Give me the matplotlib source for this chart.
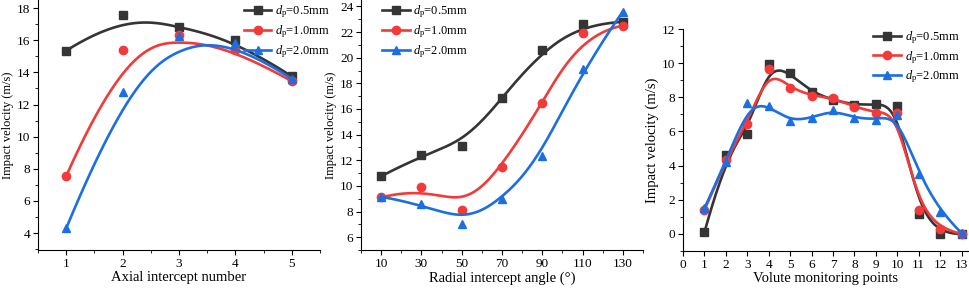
import numpy as np
import matplotlib
matplotlib.use("Agg")
import matplotlib.pyplot as plt
from matplotlib.ticker import MultipleLocator
from matplotlib.legend_handler import HandlerTuple

plt.rcParams['font.family'] = ['Liberation Serif', 'DejaVu Serif']
plt.rcParams['mathtext.fontset'] = 'custom'
plt.rcParams['mathtext.rm'] = 'Liberation Serif'
plt.rcParams['mathtext.it'] = 'Liberation Serif:italic'

# data
labels = [r'$d_\mathrm{p}$=0.5mm', r'$d_\mathrm{p}$=1.0mm', r'$d_\mathrm{p}$=2.0mm']
colors = ['#353535', '#f23a3a', '#1c6fe0']
markers = ['s', 'o', '^']

axial_x = [1, 2, 3, 4, 5]
axial_05 = [15.35, 17.55, 16.85, 16.0, 13.75]
axial_10 = [7.55, 15.4, 16.3, 15.4, 13.45]
axial_20 = [4.3, 12.75, 16.25, 15.85, 13.6]

radial_x = [10, 30, 50, 70, 90, 110, 130]
radial_05 = [10.75, 12.4, 13.15, 16.85, 20.6, 22.6, 22.8]
radial_10 = [9.1, 9.9, 8.1, 11.5, 16.45, 21.9, 22.5]
radial_20 = [9.15, 8.6, 7.05, 8.95, 12.3, 19.1, 23.6]

volute_x = [1, 2, 3, 4, 5, 6, 7, 8, 9, 10, 11, 12, 13]
volute_05 = [0.1, 4.6, 5.85, 9.95, 9.4, 8.3, 7.85, 7.55, 7.6, 7.5, 1.15, 0.0, 0.0]
volute_10 = [1.4, 4.3, 6.45, 9.65, 8.55, 8.1, 7.95, 7.45, 7.1, 7.1, 1.4, 0.3, 0.0]
volute_20 = [1.5, 4.2, 7.65, 7.5, 6.6, 6.8, 7.25, 6.8, 6.7, 6.95, 3.5, 1.3, 0.05]


def basis(i, k, t, knots):
    if k == 0:
        b = ((knots[i] <= t) & (t < knots[i + 1])).astype(float)
        if knots[i + 1] == knots[-1] and knots[i] < knots[i + 1]:
            b[t == knots[-1]] = 1.0
        return b
    out = np.zeros_like(t)
    d1 = knots[i + k] - knots[i]
    if d1 > 0:
        out += (t - knots[i]) / d1 * basis(i, k - 1, t, knots)
    d2 = knots[i + k + 1] - knots[i + 1]
    if d2 > 0:
        out += (knots[i + k + 1] - t) / d2 * basis(i + 1, k - 1, t, knots)
    return out


def bspline(px, py, k=3, n=300):
    # clamped cubic B-spline with the data as control points
    px = np.asarray(px, float)
    py = np.asarray(py, float)
    m = len(px)
    knots = np.concatenate([np.zeros(k), np.arange(m - k + 1), np.full(k, m - k)]).astype(float)
    t = np.linspace(0, m - k, n)
    bx = np.zeros(n)
    by = np.zeros(n)
    for i in range(m):
        b = basis(i, k, t, knots)
        bx += b * px[i]
        by += b * py[i]
    return bx, by


def panel(ax, x, series, xlabel, ylabel_size=9.0):
    handles = []
    for ys, c, mk in zip(series, colors, markers):
        cx, cy = bspline(x, ys)
        ln, = ax.plot(cx, cy, color=c, lw=1.9)
        pt, = ax.plot(x, ys, mk, color=c, ms=6, ls='none')
        handles.append((ln, pt))
    ax.spines['top'].set_visible(False)
    ax.spines['right'].set_visible(False)
    ax.set_xlabel(xlabel, fontsize=10.5, labelpad=1)
    ax.set_ylabel('Impact velocity (m/s)', fontsize=ylabel_size, labelpad=2)
    ax.tick_params(which='both', direction='out', labelsize=9.5, pad=2)
    ax.tick_params(which='major', length=3.5)
    ax.tick_params(which='minor', length=2)
    return handles


def add_legend(ax, handles, loc, anchor):
    ax.legend(handles, labels, handler_map={tuple: HandlerTuple(ndivide=1, pad=0)},
              loc=loc, bbox_to_anchor=anchor, frameon=False,
              fontsize=9, handlelength=2.2, handletextpad=0.3, labelspacing=0.25,
              borderpad=0, borderaxespad=0)


fig = plt.figure(figsize=(9.69, 2.89), dpi=100)
W, H = 969, 289

def add_axes(l, r, b, t):
    return fig.add_axes([l / W, 1 - b / H, (r - l) / W, (b - t) / H])

ax1 = add_axes(38, 320, 250, 0)
h1 = panel(ax1, axial_x, [axial_05, axial_10, axial_20], 'Axial intercept number')
ax1.set_xlim(0.5, 5.5)
ax1.set_ylim(2.95, 18.5)
ax1.xaxis.set_major_locator(MultipleLocator(1))
ax1.xaxis.set_minor_locator(MultipleLocator(0.5))
ax1.yaxis.set_major_locator(MultipleLocator(2))
ax1.yaxis.set_minor_locator(MultipleLocator(1))
add_legend(ax1, h1, 'upper right', (1.035, 0.985))

ax2 = add_axes(361, 643, 250, 0)
h2 = panel(ax2, radial_x, [radial_05, radial_10, radial_20], 'Radial intercept angle (°)')
ax2.set_xlim(0, 140)
ax2.set_ylim(5, 24.5)
ax2.set_xticks(radial_x)
ax2.xaxis.set_minor_locator(MultipleLocator(10))
ax2.yaxis.set_major_locator(MultipleLocator(2))
ax2.yaxis.set_minor_locator(MultipleLocator(1))
add_legend(ax2, h2, 'upper left', (0.075, 0.985))

ax3 = add_axes(683, 968, 251, 29)
h3 = panel(ax3, volute_x, [volute_05, volute_10, volute_20], 'Volute monitoring points', 10.5)
ax3.set_xlim(0, 13.3)
ax3.set_ylim(-1, 12)
ax3.xaxis.set_major_locator(MultipleLocator(1))
ax3.yaxis.set_major_locator(MultipleLocator(2))
ax3.yaxis.set_minor_locator(MultipleLocator(1))
add_legend(ax3, h3, 'upper right', (0.97, 1.0))

fig.savefig('out.png', dpi=100)
